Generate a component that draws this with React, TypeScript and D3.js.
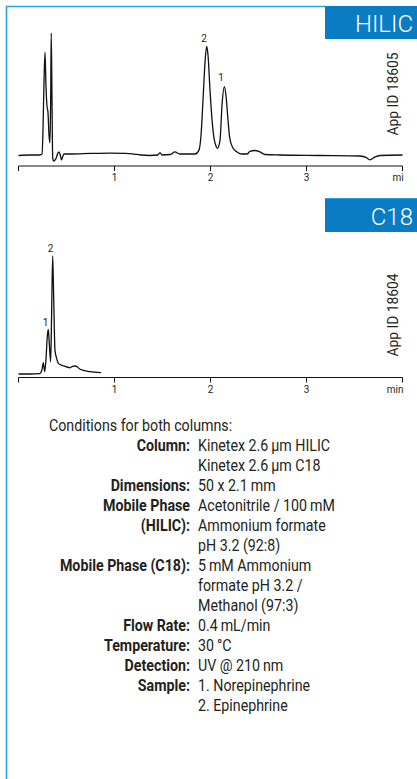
import React from "react";
import { scaleLinear, line as d3line, curveMonotoneX } from "d3";

// HILIC trace (time in min, relative signal)
const hilicTime = [
  0, 0.12, 0.22, 0.245, 0.255, 0.266, 0.276, 0.286, 0.297, 0.307, 0.318, 0.328, 0.335, 0.341, 0.349,
  0.356, 0.365, 0.39, 0.41, 0.422, 0.435, 0.448, 0.462, 0.474, 0.55, 0.75, 0.95, 1.12, 1.2, 1.27, 1.37,
  1.45, 1.474, 1.495, 1.58, 1.63, 1.68, 1.84, 1.88, 1.901, 1.922, 1.943, 1.96, 1.974, 1.995, 2.016,
  2.036, 2.057, 2.072, 2.099, 2.12, 2.144, 2.161, 2.182, 2.2, 2.234, 2.276, 2.328, 2.38, 2.411, 2.463,
  2.516, 2.568, 2.72, 3.14, 3.56, 3.62, 3.661, 3.714, 3.766, 4.0,
];
const hilicSignal = [
  -0.4, 0, 0, 0.8, 20, 61, 84, 57, 40, 35, 16, 10, 45, 100, 45,
  -2, -5, -3, 1.5, 2.5, 0, -4, -1, 0.8, 0.8, 1.3, 1.6, 1.4, 0.8, 0, -0.4,
  0, 2, 0, 0.4, 2.5, 0.8, 0.8, 4, 16, 45, 76, 89, 82, 53, 29,
  14, 7.4, 5.5, 12, 41, 56, 49, 29, 14, 5.7, 2.5, 0.8, 0.8, 2.9, 3.7,
  2.5, 0.4, 0, -0.4, -0.8, -2, -4, -1.6, -0.4, 0,
];

// C18 trace
const c18Time = [
  0, 0.12, 0.224, 0.24, 0.248, 0.258, 0.273, 0.286, 0.3, 0.31, 0.32, 0.335, 0.344, 0.356, 0.367,
  0.38, 0.396, 0.415, 0.467, 0.536, 0.563, 0.589, 0.615, 0.641, 0.745, 0.859,
];
const c18Signal = [
  0, 0, 0.4, 2.5, 5, 9.6, 2, 12, 32, 37.7, 27, 10.4, 46, 100, 63,
  20, 13.6, 9, 7, 5.3, 6.4, 6.8, 5.9, 4, 2, 1.1,
];

const axisTicks = [0, 1, 2, 3, 4];
const axisTickLabels = ["", "1", "2", "3", ""];

const hilicPeakNames = ["2", "1"];
const hilicPeakTimes = [1.932, 2.109];
const hilicPeakHeights = [93, 61];

const c18PeakNames = ["1", "2"];
const c18PeakTimes = [0.283, 0.335];
const c18PeakHeights = [41, 103];

const condLabels = [
  "Column:", "", "Dimensions:", "Mobile Phase", "(HILIC):", "", "Mobile Phase (C18):", "", "",
  "Flow Rate:", "Temperature:", "Detection:", "Sample:", "",
];
const condValues = [
  "Kinetex 2.6\u2009µm HILIC", "Kinetex 2.6\u2009µm C18", "50 x 2.1\u2009mm", "Acetonitrile / 100\u2009mM",
  "Ammonium formate", "pH 3.2 (92:8)", "5\u2009mM Ammonium", "formate pH 3.2 /", "Methanol (97:3)",
  "0.4\u2009mL/min", "30\u2009°C", "UV @ 210\u2009nm", "1. Norepinephrine", "2. Epinephrine",
];

const BLUE_LINE = "#2aa4de";
const BLUE_BOX = "#0a7cc3";
const INK = "#231f20";
const FONT = "Roboto, 'Liberation Sans', Arial, sans-serif";
const SQUEEZE = 0.89;

const x = scaleLinear().domain([0, 4]).range([18.5, 402.5]);

// narrow text, as in the condensed face of the original
const squeeze = (ax: number) => `translate(${ax},0) scale(${SQUEEZE},1) translate(${-ax},0)`;

function Chromatogram({
  time, signal, yRange, axisY, unit, names, peakTimes, peakHeights, appId, boxY, title,
}: any) {
  const y = scaleLinear().domain([0, 100]).range(yRange);
  const pts = time.map((t: number, i: number) => [t, signal[i]] as [number, number]);
  const path = d3line<[number, number]>()
    .x((d) => x(d[0]))
    .y((d) => y(d[1]))
    .curve(curveMonotoneX)(pts);
  const [baseY, topY] = yRange;
  return (
    <g>
      {/* title box */}
      <rect x={325} y={boxY} width={92} height={33} fill={BLUE_BOX} />
      <text x={413} y={boxY + 26} textAnchor="end" fontSize={24} fontWeight={300} fill="#fff" fontFamily={FONT}>
        {title}
      </text>

      {/* trace */}
      <path d={path ?? undefined} fill="none" stroke="#111" strokeWidth={1.3} strokeLinejoin="round" />

      {/* peak labels */}
      {names.map((n: string, i: number) => (
        <text key={i} x={x(peakTimes[i])} y={y(peakHeights[i])} textAnchor="middle" fontSize={10} fill="#222" fontFamily={FONT}>
          {n}
        </text>
      ))}

      {/* x axis */}
      <line x1={x(0)} x2={x(4)} y1={axisY} y2={axisY} stroke="#111" strokeWidth={1} />
      {axisTicks.map((t, i) => (
        <g key={i} transform={`translate(${x(t)},${axisY})`}>
          <line y1={0} y2={5} stroke="#111" strokeWidth={1} />
          <text y={15} textAnchor="middle" fontSize={10} fill={INK} fontFamily={FONT}>
            {axisTickLabels[i]}
          </text>
        </g>
      ))}
      <text x={unit === "min" ? x(4) + 1 : x(4) - 10} y={axisY + 15} textAnchor={unit === "min" ? "end" : "start"} fontSize={10} fill={INK} fontFamily={FONT}>
        {unit}
      </text>

      {/* app id */}
      <text
        transform={`translate(398,${(baseY + topY) / 2}) rotate(-90) scale(${SQUEEZE},1)`}
        textAnchor="middle"
        fontSize={15.5}
        fill={INK}
        fontFamily={FONT}
      >
        {appId}
      </text>
    </g>
  );
}

export default function App() {
  return (
    <svg
      width={417}
      height={779}
      style={{ position: "absolute", left: 0, top: 0, background: "#fff" }}
    >
      {/* frame */}
      <line x1={6.5} x2={6.5} y1={6} y2={779} stroke={BLUE_LINE} strokeWidth={1.6} />
      <line x1={6} x2={325} y1={6.5} y2={6.5} stroke={BLUE_LINE} strokeWidth={1.6} />
      <line x1={325} x2={417} y1={198.5} y2={198.5} stroke={BLUE_LINE} strokeWidth={1.2} />

      <Chromatogram
        time={hilicTime}
        signal={hilicSignal}
        yRange={[155, 33]}
        axisY={166}
        unit="mi"
        names={hilicPeakNames}
        peakTimes={hilicPeakTimes}
        peakHeights={hilicPeakHeights}
        appId="App ID 18605"
        boxY={6}
        title="HILIC"
      />
      <Chromatogram
        time={c18Time}
        signal={c18Signal}
        yRange={[374, 256]}
        axisY={377.5}
        unit="min"
        names={c18PeakNames}
        peakTimes={c18PeakTimes}
        peakHeights={c18PeakHeights}
        appId="App ID 18604"
        boxY={199}
        title="C18"
      />

      {/* conditions */}
      <g fontFamily={FONT} fontSize={16} fill={INK}>
        <text x={49} y={431.5} transform={squeeze(49)}>
          Conditions for both columns:
        </text>
        {condValues.map((v, i) => (
          <g key={i}>
            {condLabels[i] && (
              <text x={190} y={451.5 + i * 20} textAnchor="end" fontWeight={700} transform={squeeze(190)}>
                {condLabels[i]}
              </text>
            )}
            <text x={198} y={451.5 + i * 20} transform={squeeze(198)}>
              {v}
            </text>
          </g>
        ))}
      </g>
    </svg>
  );
}
